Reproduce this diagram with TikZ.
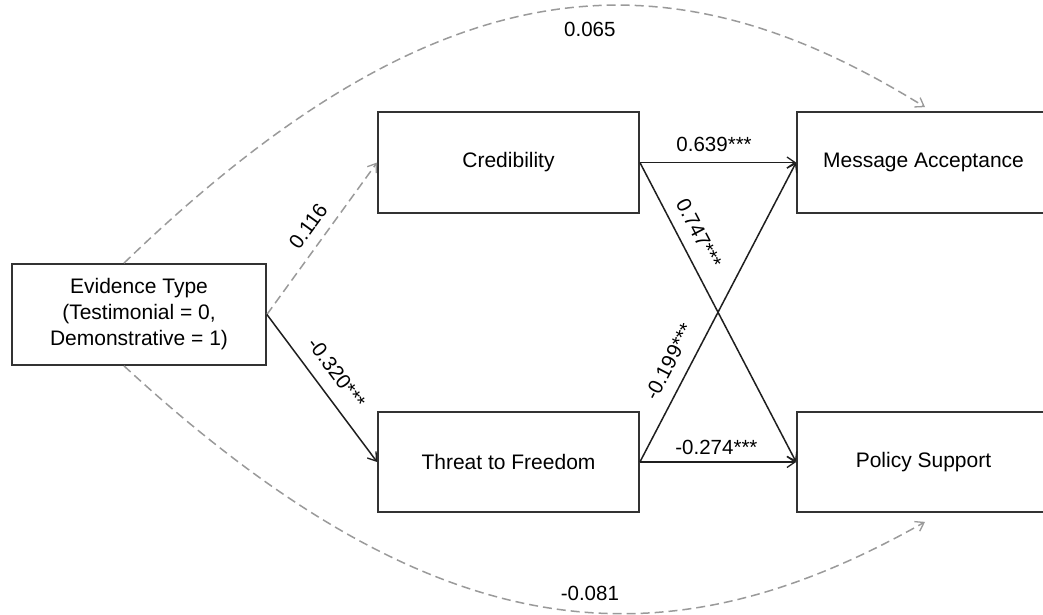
\documentclass[tikz,border=0pt]{standalone}
\usepackage{fontspec}
\setmainfont{Liberation Sans}
\usetikzlibrary{arrows.meta}
\definecolor{boxline}{HTML}{333333}
\definecolor{dashcol}{HTML}{9A9A9A}
\begin{document}
\begin{tikzpicture}[x=1pt,y=-1pt,
  font=\fontsize{21}{26}\selectfont,
  varbox/.style={draw=boxline,line width=1.8pt,fill=white,rectangle,inner sep=0pt,align=center},
  solidarr/.style={draw=black!88,line width=1.5pt,-{Straight Barb[length=8pt,width=11pt,line width=1.3pt]}},
  dasharr/.style={draw=dashcol,line width=1.5pt,dash pattern=on 9pt off 5pt,-{Straight Barb[length=8pt,width=11pt,line width=1.3pt]}},
  lbl/.style={inner sep=0pt,font=\fontsize{20.5}{24}\selectfont}]
\useasboundingbox (0,0) rectangle (1043,615);
\node[varbox,minimum width=254pt,minimum height=101pt] (ev) at (139,314.5) {\rule{0pt}{0pt}\raisebox{-3pt}{\begin{tabular}{@{}c@{}}Evidence Type\\(Testimonial = 0,\\Demonstrative = 1)\end{tabular}}};
\node[varbox,minimum width=261pt,minimum height=101pt] (cred) at (508.5,162.5) {Credibility};
\node[varbox,minimum width=261pt,minimum height=100pt] (thr) at (508.5,462) {Threat to Freedom};
\node[varbox,minimum width=253pt,minimum height=101pt] (ma) at (923.5,162.5) {Message Acceptance};
\node[varbox,minimum width=253pt,minimum height=100pt] (ps) at (923.5,462) {Policy Support};
% direct effects (dashed arcs)
\draw[dasharr] ([xshift=-15pt]ev.north) .. controls (446,-48) and (675,-48) .. ([xshift=1.5pt,yshift=4pt]ma.north)
  node[lbl,pos=0.55,below=15pt] (l065) {0.065};
\draw[dasharr] ([xshift=-15pt]ev.south) .. controls (446,663) and (675,663) .. ([xshift=1.5pt,yshift=-9pt]ps.south)
  node[lbl,pos=0.55,above=11.5pt] (l081) {-0.081};
% a paths
\draw[dasharr] (ev.east) -- (cred.west) node[lbl,pos=0.51,sloped,above=10.5pt] (l116) {0.116};
\draw[solidarr] (ev.east) -- (thr.west) node[lbl,pos=0.48,sloped,above=13pt] (l320) {-0.320***};
% b paths
\draw[solidarr] (cred.east) -- (ma.west) node[lbl,pos=0.475,above=10pt] (l639) {0.639***};
\draw[solidarr] (cred.east) -- (ps.west) node[lbl,pos=0.267,sloped,above=11.5pt] (l747) {0.747***};
\draw[solidarr] (thr.east) -- (ma.west) node[lbl,pos=0.303,sloped,above=12.5pt] (l199) {-0.199***};
\draw[solidarr] (thr.east) -- (ps.west) node[lbl,pos=0.49,above=7pt] (l274) {-0.274***};
\end{tikzpicture}
\end{document}
